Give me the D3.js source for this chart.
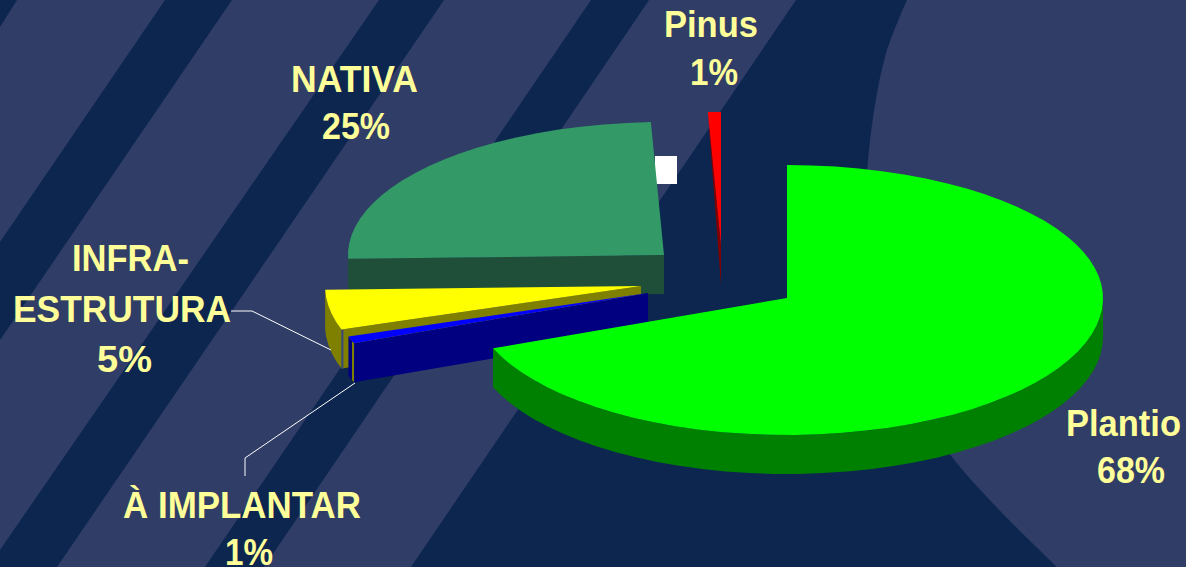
<!DOCTYPE html>
<html><head><meta charset="utf-8">
<style>html,body{margin:0;padding:0;background:#0D2650;overflow:hidden}svg{display:block}
text{font-family:"Liberation Sans",Arial,sans-serif;font-weight:700;fill:#FFFF99;font-size:36px}</style>
<script src="https://cdn.jsdelivr.net/npm/d3@7"></script>
</head><body><svg id="c" width="1186" height="567"></svg>
<script>
// --- data ---
const categories = ["Plantio", "À IMPLANTAR", "INFRA-ESTRUTURA", "NATIVA", "Pinus"];
const values = [68.4, 0.9, 5.2, 24.9, 0.6];
const percentLabels = ["68%", "1%", "5%", "25%", "1%"];
const topColors = ["#00FF00", "#0000FF", "#FFFF00", "#339966", "#FF0000"];
const sideColors = ["#008000", "#000080", "#808000", "#1F4F38", "#800000"];

// --- layout ---
const W = 1186, H = 567, RX = 316, RY_BACK = 133, RY_FRONT = 137, DEPTH = 39;
const apex = [[787,298],[648,293],[641,286],[664,255],[721,245]];
const drawOrder = [3,2,1,0,4];
const labelLayout = [
  [{t:"Plantio",x:1066,y:436,w:115},{t:percentLabels[0],x:1097,y:483,w:68}],
  [{t:"À IMPLANTAR",x:123,y:518,w:238},{t:percentLabels[1],x:225,y:565,w:48}],
  [{t:"INFRA-",x:72,y:271,w:117},{t:"ESTRUTURA",x:13,y:322,w:218},{t:percentLabels[2],x:97,y:372,w:55}],
  [{t:"NATIVA",x:291,y:92,w:127},{t:percentLabels[3],x:322,y:139,w:68}],
  [{t:"Pinus",x:664,y:37,w:94},{t:percentLabels[4],x:690,y:85,w:48}]
];
const leaders = [
  [[231,311],[252,311],[331,350]],
  [[245,476],[245,458],[355,383]]
];
// background shapes
const BG_LIGHT = "#2F3D67", BG_DARK = "#0D2650";
const stripes = [
  [[0,0],[17,0],[0,27]],
  [[165,0],[232,0],[0,340],[0,242]],
  [[379,0],[444,0],[57,567],[0,567],[0,550]],
  [[591,0],[649,0],[264,567],[205,567]]
];
const bigCurve = [[907,0],[885,57],[869,150],[866,225],[880,330],[949,453],[1057,567]];

const svg = d3.select("#c");
const line = d3.line();
svg.append("rect").attr("width",W).attr("height",H).attr("fill",BG_LIGHT);
svg.selectAll("path.stripe").data(stripes).join("path").attr("class","stripe")
   .attr("d",d=>line(d)+"Z").attr("fill",BG_DARK);
const curveD = d3.line().curve(d3.curveCatmullRom)(bigCurve);
svg.append("path").attr("d",`M796,0L907,0${curveD.replace(/^M[^C]*/,"")}L411,567Z`).attr("fill",BG_DARK);
// stray white box behind the NATIVA slice
svg.append("rect").attr("x",655).attr("y",156).attr("width",22).attr("height",28).attr("fill","#fff");

// --- pie ---
const arcs = d3.pie().sort(null)(values);
const warp = a => a + (3*Math.PI/180)*Math.sin(2*a); // slight foreshortening of the 3-D view
const sx = d3.scaleLinear().domain([-1,1]).range([-RX,RX]);
const rim = (i,a,dz=0)=>{
  const t = warp(a), c = Math.cos(t);
  return [apex[i][0]+sx(Math.sin(t)), apex[i][1]-c*(c>0?RY_BACK:RY_FRONT)+dz];
};
const sample = (a0,a1)=>{const n=Math.max(2,Math.ceil(Math.abs(a1-a0)/0.07));return d3.range(n+1).map(k=>a0+(a1-a0)*k/n);};
const g = svg.append("g");
const poly=(pts,fill)=>g.append("path").attr("d",line(pts)+"Z").attr("fill",fill);

drawOrder.forEach(i=>{
  const {startAngle:s,endAngle:e}=arcs[i], A=apex[i], top=topColors[i], side=sideColors[i];
  const cutFace=a=>poly([A,rim(i,a),rim(i,a,DEPTH),[A[0],A[1]+DEPTH]],side);
  const rimFace=(a0,a1,col=side)=>{const ss=sample(a0,a1);poly([...ss.map(a=>rim(i,a)),...ss.reverse().map(a=>rim(i,a,DEPTH))],col);};
  if(i===4){ // thin back slice: only a dark sliver of the cut face shows
    poly([rim(i,s),[A[0],A[1]+DEPTH+1],A],side);
  } else if(i===0){
    rimFace(Math.PI/2,e);
  } else if(i===1){
    rimFace(s,e);
    rimFace(s,s+(e-s)*0.35,sideColors[2]);
    cutFace(s);
  } else if(i===2){
    rimFace(s,e); cutFace(s);
    const p=rim(i,s);
    g.append("path").attr("d",line([[p[0]+1,p[1]],[p[0]+1,p[1]+DEPTH]])).attr("stroke","#3A4A78").attr("stroke-width",2);
  } else if(i===3){
    cutFace(s);
  }
  const ss=sample(s,e);
  poly([A,...ss.map(a=>rim(i,a))],top);
});

// --- leaders and labels ---
svg.selectAll("path.lead").data(leaders).join("path").attr("class","lead")
   .attr("d",d=>line(d)).attr("fill","none").attr("stroke","#fff").attr("stroke-width",1);
labelLayout.flat().forEach(l=>{
  svg.append("text").attr("x",l.x).attr("y",l.y)
     .attr("textLength",l.w).attr("lengthAdjust","spacingAndGlyphs").text(l.t);
});
</script></body></html>
